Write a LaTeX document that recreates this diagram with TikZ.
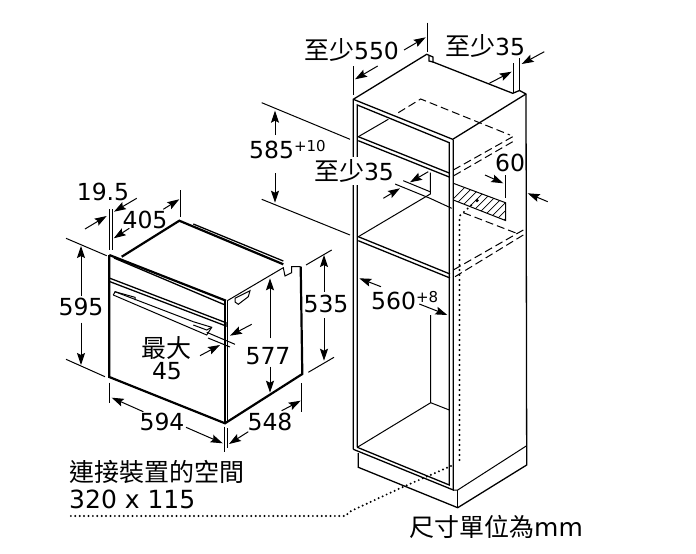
\documentclass[tikz,border=0pt]{standalone}
\usepackage{fontspec}
\setmainfont{DejaVu Sans}
\newfontfamily\cjk{Noto Sans CJK TC}
\usetikzlibrary{arrows.meta}
\tikzset{
  thinl/.style={line width=1pt},
  medl/.style={line width=1.3pt},
  thickl/.style={line width=2.2pt},
  dim/.style={line width=1pt,-{Stealth[length=12pt,width=8pt,inset=2pt]}},
  dashl/.style={line width=1pt,dash pattern=on 8pt off 4pt},
  dotl/.style={line width=2.2pt,line cap=round,dash pattern=on 0pt off 4.4pt},
  lab/.style={inner sep=0pt,font=\fontsize{23.5}{25}\selectfont},
  big/.style={inner sep=0pt,font=\fontsize{25}{27}\selectfont},
}
\newcommand{\cj}[1]{{\fontsize{25}{26}\selectfont\cjk #1}}
\begin{document}
\begin{tikzpicture}[x=1pt,y=-1pt,line join=miter]
\useasboundingbox (0,0) rectangle (696,554);
\fill[white] (0,0) rectangle (696,554);
% ---- oven ----
\draw[thickl] (121.7,256.7) -- (179.3,220.7) -- (283.3,264.3);
\draw[thickl] (109.3,255) -- (109.3,377) -- (225,423.3) -- (302.3,374) -- (300.7,266.7);
\draw[thickl] (109.3,255) -- (226,300.7);
\draw[medl] (193.3,224) -- (283.3,261);
\draw[medl] (114,258) -- (224,304.5);
\draw[medl] (110,278.3) -- (226,322.7) -- (226,326) -- (110,281.7);
\draw[medl] (225,300.7) -- (225,423.3);
\draw[medl] (227.3,300.7) -- (227.3,421.7);
\draw[thinl] (227.3,300.7) -- (283.3,267.7) -- (285,276) -- (291.7,272.7) -- (291.7,266.7) -- (300.7,266.7);
\draw[thinl] (113.3,295) -- (115,291.7) -- (135,297.3) -- (135,300);
\draw[thinl] (113.3,295) -- (206.7,335) -- (211.7,327.3) -- (193.3,321.7);
\draw[thinl] (115,291.7) -- (193.3,321.7);
\draw[thinl] (193.3,325) -- (206.7,330) -- (211.7,327.3);
\draw[thinl] (235,298.3) -- (250,290.7) -- (248.3,296.7) -- (238.3,304.3) -- (235,302) -- cycle;
% oven dimensions
\draw[thinl] (109.3,209.3) -- (109.3,250);
\draw[thinl] (112.7,209.3) -- (112.7,250);
\draw[thinl] (180,190) -- (180,216.7);
\draw[thinl] (66,238.3) -- (106.7,255.7);
\draw[thinl] (66,359.3) -- (105,376.7);
\draw[thinl] (306,265) -- (331.7,250);
\draw[thinl] (308.3,372.3) -- (334,357.3);
\draw[thinl] (206.7,332.3) -- (235,344.3);
\draw[thinl] (208,338) -- (230,347);
\draw[thinl] (109.3,382.7) -- (109.3,403.3);
\draw[thinl] (224,426.7) -- (224,451.7);
\draw[thinl] (227.3,428.3) -- (227.3,448.3);
\draw[thinl] (301.7,383.3) -- (301.7,411.7);
\draw[dim] (85,229) -- (106.7,216);
\draw[dim] (136.7,198.3) -- (114,211.7);
\draw[dim] (129.3,228.3) -- (113.8,238.3);
\draw[dim] (163.3,209.3) -- (179.3,199.3);
\draw[dim] (81,296) -- (81,246);
\draw[dim] (81,322.7) -- (81,365);
\draw[dim] (324,291.7) -- (324,255);
\draw[dim] (324,318.3) -- (324,360.7);
\draw[dim] (270,338.3) -- (270,278.3);
\draw[dim] (270,366.7) -- (270,392.7);
\draw[dim] (251.7,324.3) -- (230,335.7);
\draw[dim] (200,355.7) -- (220,345);
\draw[dim] (143.3,411.7) -- (111.7,397.7);
\draw[dim] (186,427.3) -- (222.7,443.3);
\draw[dim] (248.3,431.7) -- (229,444);
\draw[dim] (281.7,410.7) -- (300.7,400.7);
% ---- cabinet ----
\draw[medl] (353.3,449.3) -- (353.3,99.3) -- (426.7,54.3) -- (433,57) -- (433,62) -- (512.7,93.3) -- (519.5,90.5) -- (526,94) -- (526.7,465) -- (457.7,507.7) -- (358.3,467.3) -- (358.3,453);
\draw[medl] (353.3,99.3) -- (452.7,139.3) -- (526,94);
\draw[medl] (429,56) -- (429,61) -- (433,62);
\draw[medl] (357.3,447.3) -- (357.3,105) -- (449.3,142.7) -- (449.3,485) -- (357.3,447.3);
\draw[medl] (353.3,449.3) -- (453.3,490) -- (453.3,139.5);
\draw[thinl] (457.7,490) -- (457.7,507.7);
\draw[thinl] (453.3,490) -- (457.7,490) -- (526.7,445.7);
% shelves
\draw[medl] (358.3,136.7) -- (450,173.3);
\draw[medl] (358.3,140.7) -- (450,177.3);
\draw[medl] (358.3,236.7) -- (450,274);
\draw[medl] (358.3,240.7) -- (450,278);
\draw[thinl] (358.3,136.7) -- (388.3,119.3);
\draw[thinl] (358.3,236.7) -- (430.3,194) -- (430.3,172.7);
\draw[thinl] (403.3,180.7) -- (430,191.7);
\draw[thinl] (395,184) -- (430,198.3) -- (451.7,208.3);
\draw[thinl] (430.7,315) -- (430.7,402.7) -- (357.3,447.3);
\draw[thinl] (430.7,402.7) -- (449.3,410);
% dashes
\draw[dashl] (398.3,112.7) -- (420.7,99) -- (510,135);
\draw[dashl] (512.7,136.7) -- (453.3,170);
\draw[dashl] (512.7,141.7) -- (453.3,176);
\draw[dashl] (463.3,212.7) -- (516.7,233.3);
\draw[dashl] (523.3,230) -- (453.3,270);
\draw[dashl] (523.3,235) -- (455,276.7);
% hatched panel
\begin{scope}
\clip (454,183.3) -- (505.5,202.7) -- (505.5,220.5) -- (454,200) -- cycle;
\foreach \k in {0,...,10} {
  \draw[line width=.7pt] (430+\k*8,222) -- (472+\k*8,180);
}
\end{scope}
\draw[thinl] (453.3,183.3) -- (505.5,202.7) -- (505.5,220.5) -- (453.3,200);
\fill (477,200.5) circle (1.8pt);
\draw[dotl,dash pattern=on 0pt off 5pt] (459.5,460) -- (459.5,216) -- (472,204.5);
\draw[dotl] (451,466) -- (400,488.3) -- (351,511) -- (345,516) -- (70,516);
% cabinet dimensions
\draw[thinl] (353.7,66) -- (353.7,95);
\draw[thinl] (427,22.7) -- (427,51.7);
\draw[thinl] (513.3,63.3) -- (513.3,93.3);
\draw[thinl] (519.3,58.3) -- (519.3,90.7);
\draw[thinl] (261.7,102.7) -- (350,139.3);
\draw[thinl] (261.7,199.3) -- (350,235);
\draw[thinl] (505,175) -- (505,198);
\draw[dim] (377.7,66) -- (355,79.3);
\draw[dim] (404,50) -- (425.7,37.3);
\draw[dim] (489.3,83.3) -- (511.7,71.7);
\draw[dim] (544.3,51.7) -- (521.7,64);
\draw[dim] (275,135) -- (275,110.7);
\draw[dim] (275,173.3) -- (275,202.7);
\draw[dim] (383.3,198.3) -- (400,188.3);
\draw[dim] (428.3,171.7) -- (410,182.3);
\draw[dim] (485,175) -- (503.3,183.3);
\draw[dim] (547.7,201.7) -- (527.7,193.3);
\draw[dim] (381,286.7) -- (359.3,278.3);
\draw[dim] (419.3,304) -- (447.3,315);
% ---- labels ----
\node[lab] (a) at (103,192) {19.5};
\node[lab] (b) at (145,220) {405};
\node[lab] (c) at (81,307) {595};
\node[lab] (d) at (326,304) {535};
\node[lab] (e) at (268,356) {577};
\node[lab] (f) at (166,348) {\cj{最大}};
\node[lab] (g) at (167,371) {45};
\node[lab] (h) at (162,422) {594};
\node[lab] (i) at (270,422) {548};
\node[lab] (j) at (351.5,50) {\cj{至少}550};
\node[lab] (k) at (485,46) {\cj{至少}35};
\node[lab,anchor=base west] (l) at (249,158) {585\raisebox{7pt}{\fontsize{15}{16}\selectfont +10}};
\node[lab,fill=white,inner xsep=1pt,inner ysep=3pt] (m) at (354,171) {\cj{至少}35};
\node[lab] (n) at (510,163) {60};
\node[lab,anchor=base west] (o) at (371,309) {560\raisebox{7pt}{\fontsize{15}{16}\selectfont +8}};
\node[big,anchor=base west] (p) at (69,481) {\cjk 連接裝置的空間};
\node[big,anchor=base west] (q) at (69,508) {320 x 115};
\node[big,anchor=base west] (r) at (409,536) {{\cjk 尺寸單位為}mm};
\end{tikzpicture}
\end{document}
